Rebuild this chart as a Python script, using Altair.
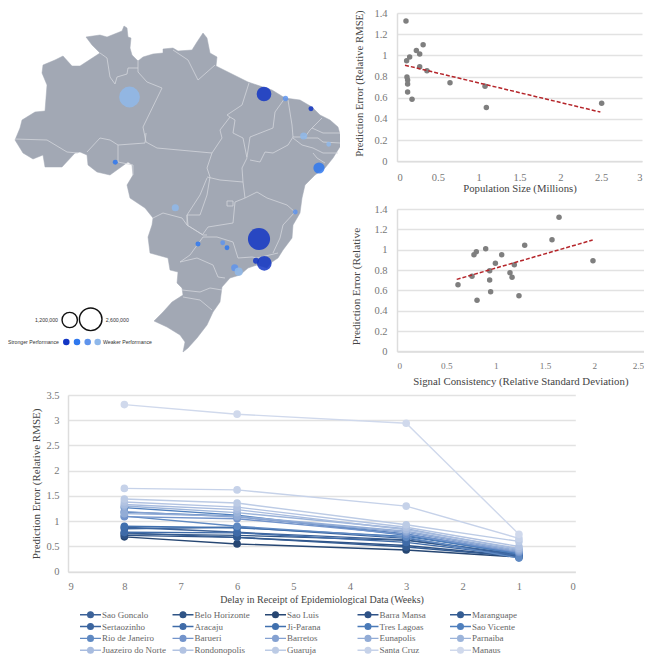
import altair as alt
import pandas as pd

SERIF = "Liberation Serif"
SANS = "Liberation Sans"

# ---------- map geometry (map units) ----------
outline = [(86,32),(100,30),(107,32),(122,26),(124,21),(127,23),(128,32),(131,33),(130,43),(132,50),(138,56),
 (143,52),(153,49),(163,48),(163,44),(173,43),(178,46),(192,45),(197,37),(203,28),(207,33),(210,48),(217,52),
 (216,61),(230,68),(248,77),(257,80),(272,85),(285,93),(300,95),(312,102),(320,110),(330,115),(338,122),
 (341,133),(341,140),(333,153),(325,163),(315,170),(305,180),(302,193),(300,208),(293,220),(292,233),(283,245),
 (278,253),(272,257),(267,263),(257,260),(248,263),(240,270),(230,273),(222,282),(220,297),(213,307),(207,320),
 (197,333),(188,343),(183,347),(185,337),(180,330),(167,322),(154,316),(163,307),(172,297),(183,290),(182,283),
 (177,278),(178,267),(170,265),(168,253),(150,248),(148,232),(152,220),(153,213),(145,203),(130,193),(127,180),
 (133,170),(132,160),(128,157),(110,170),(97,167),(88,160),(87,150),(80,147),(75,148),(62,162),(45,162),(43,150),
 (33,154),(23,148),(15,135),(20,123),(22,115),(35,107),(45,106),(47,80),(42,68),(43,60),(55,55),(63,51),(72,61),
 (80,61),(100,48),(92,40),(86,32)]
borders = [
 [(100,48),(107,53),(110,72),(115,79),(117,72),(127,69),(128,63),(138,63)],
 [(138,56),(138,67),(147,77),(162,83),(143,122),(146,137),(157,143),(212,148)],
 [(15,134),(47,135),(67,147),(78,148)],
 [(87,147),(100,133),(110,135),(118,140),(145,138),(146,128)],
 [(118,140),(118,157),(133,160),(133,170)],
 [(173,45),(188,55),(198,75),(215,60)],
 [(249,78),(242,100),(227,110),(230,112),(220,125),(222,133),(212,148),(207,163),(210,172),(207,190),(200,210),(187,210),(187,220),(203,230),(207,230)],
 [(230,112),(235,115),(233,128),(243,133),(247,153),(242,163),(243,177),(245,193)],
 [(285,93),(275,107),(273,123),(250,132),(247,152)],
 [(288,95),(292,120),(293,132),(305,132),(310,125),(322,113)],
 [(312,123),(323,128),(340,128)],
 [(305,133),(318,133),(323,137),(340,138)],
 [(293,133),(302,140),(313,143),(323,148),(338,148)],
 [(313,148),(317,153),(325,158)],
 [(250,155),(260,157),(265,147),(273,148),(288,140),(293,132)],
 [(207,172),(220,175),(243,177)],
 [(153,213),(163,208),(182,213),(187,220),(203,230)],
 [(207,173),(200,190),(187,210),(188,220)],
 [(245,193),(257,187),(267,193),(287,200),(295,207)],
 [(203,229),(208,222),(233,218),(235,197),(245,193)],
 [(227,196),(233,196),(233,201),(227,201),(227,196)],
 [(203,232),(217,232),(233,237),(238,253),(252,252),(257,253),(278,248)],
 [(295,207),(283,220),(280,233),(273,248)],
 [(203,232),(190,250),(180,257)],
 [(180,257),(197,253),(213,260),(218,272),(225,273)],
 [(182,285),(200,287),(210,283),(222,285)],
 [(183,292),(200,295),(212,305)],
]

# ---------- bubbles ----------
bub_x = [129.5,264,285.5,311,303.7,328.7,319,115.3,175.3,295.3,259,264.3,256,198,222.7,227,234.7,238.7]
bub_y = [92,89,93.5,103.7,131,139.3,163,157.3,202.7,207,234,258.3,255.7,239,237.7,242.7,262.7,266.7]
bub_pop = [2.2,1.1,.145,.127,.26,.12,.64,.127,.26,.12,2.5,1.1,.18,.127,.12,.12,.26,.34]
bub_class = ["d","a","c","a","d","d","b","b","d","c","a","a","a","b","c","b","c","d"]
class_names = ["a","b","c","d"]
class_colors = ["#1336c4","#2f78ee","#5f94ec","#8fb8ea"]

ring_x = [69.7,90.7]; ring_y = [315,314.3]; ring_pop = [1.2,2.6]
key_x = [66.3,77,87.7,97.7]; key_y = [337,337,337,337]
map_labels = ["1,200,000","2,600,000","Stronger Performance","Weaker Performance"]
lab_x = [58,105.7,59,103]; lab_y = [315,314.5,337,337]; lab_al = ["right","left","right","left"]

# ---------- scatter data ----------
pop_x = [.11,.32,.237,.278,.155,.118,.278,.367,.122,.13,.13,.649,1.078,.13,.184,1.094,2.506]
pop_y = [1.325,1.10,1.045,1.013,.985,.95,.892,.854,.795,.767,.73,.742,.708,.655,.586,.508,.549]
pop_trend_x = [.098,2.49]; pop_trend_y = [.907,.465]
sig_x = [1.642,1.571,1.294,.899,.804,.78,1.061,1.986,.997,1.189,.939,1.145,.76,1.166,.939,.618,.949,1.236,.811]
sig_y = [1.318,1.098,1.043,1.01,.98,.951,.951,.892,.866,.852,.793,.774,.738,.728,.702,.656,.587,.548,.502]
sig_trend_x = [.605,1.983]; sig_trend_y = [.708,1.095]

# ---------- line data ----------
delays = [8,6,3,1]
cities = ["Sao Goncalo","Belo Horizonte","Sao Luis","Barra Mansa","Maranguape","Sertaozinho","Aracaju","Ji-Parana",
 "Tres Lagoas","Sao Vicente","Rio de Janeiro","Barueri","Barretos","Eunapolis","Parnaiba","Juazeiro do Norte",
 "Rondonopolis","Guaruja","Santa Cruz","Manaus"]
city_colors = ["#3c6299","#2f5486","#264672","#2e5286","#345c92","#3b659f","#3f6ba8","#4070ae","#4a7ab8","#4f7fbd",
 "#5f89c2","#7394cb","#84a1d1","#92acd6","#9cb4da","#a8bcdf","#b2c3e2","#bccbe5","#c6d2e9","#d0d9ec"]
city_vals = [
 [.88,.78,.63,.33],[.75,.72,.62,.35],[.69,.55,.43,.29],[.72,.68,.52,.31],[.77,.68,.49,.30],
 [.85,.88,.66,.33],[.78,.77,.58,.32],[.90,.87,.70,.36],[1.18,1.10,.75,.37],[1.27,1.12,.72,.35],
 [1.10,.90,.68,.27],[1.09,1.05,.74,.38],[1.19,1.08,.78,.40],[1.15,1.10,.80,.42],[1.30,1.17,.85,.44],
 [1.33,1.23,.83,.46],[1.38,1.28,.88,.50],[1.44,1.36,.93,.60],[1.65,1.62,1.30,.66],[3.31,3.12,2.94,.74]]

# ---------- map panel ----------
MW, MH = 332, 342
proj = dict(type="identity", reflectY=True, scale=1, translate=[-8, -8])
land = alt.Chart(alt.Data(values=[{"type":"Feature","geometry":{"type":"Polygon",
        "coordinates":[[[x,-y] for x,y in outline]]},"properties":{}}])).mark_geoshape(
        fill="#a2a8b4", stroke="#a2a8b4", strokeWidth=0.5).project(**proj)
lines = alt.Chart(alt.Data(values=[{"type":"Feature","geometry":{"type":"LineString",
        "coordinates":[[x,-y] for x,y in b]},"properties":{}} for b in borders])).mark_geoshape(
        filled=False, stroke="#d3d6dc", strokeWidth=0.8).project(**proj)
bdf = pd.DataFrame({"lon":bub_x,"lat":[-v for v in bub_y],"pop":bub_pop,"cls":bub_class})
size_scale = alt.Scale(domain=[0,3], range=[0,588], zero=True)
cls_scale = alt.Scale(domain=class_names, range=class_colors)
bubbles = alt.Chart(bdf).mark_circle(opacity=0.85).encode(
    longitude="lon:Q", latitude="lat:Q",
    size=alt.Size("pop:Q", scale=size_scale, legend=None),
    color=alt.Color("cls:N", scale=cls_scale, legend=None)).project(**proj)
rdf = pd.DataFrame({"lon":ring_x,"lat":[-v for v in ring_y],"pop":ring_pop})
rings = alt.Chart(rdf).mark_point(filled=False, stroke="#111111", strokeWidth=1.4, opacity=1).encode(
    longitude="lon:Q", latitude="lat:Q",
    size=alt.Size("pop:Q", scale=size_scale, legend=None)).project(**proj)
kdf = pd.DataFrame({"lon":key_x,"lat":[-v for v in key_y],"cls":class_names})
keys = alt.Chart(kdf).mark_circle(size=43, opacity=1).encode(
    longitude="lon:Q", latitude="lat:Q",
    color=alt.Color("cls:N", scale=cls_scale, legend=None)).project(**proj)
ldf = pd.DataFrame({"lon":lab_x,"lat":[-v for v in lab_y],"t":map_labels,"al":lab_al})
map_texts = [alt.Chart(ldf[ldf.al==a]).mark_text(font=SANS, fontSize=5.2, color="#333333", align=a, baseline="middle").encode(
    longitude="lon:Q", latitude="lat:Q", text="t:N").project(**proj) for a in ["left","right"]]
map_panel = alt.layer(land, lines, bubbles, rings, keys, *map_texts).properties(width=MW, height=MH)

# ---------- helpers ----------
def axis(title, values, title_size=10.5, label_size=10.5, **kw):
    return alt.Axis(title=title, values=values, tickCount=len(values), format="~g", labelFont=SERIF, labelFontSize=label_size, labelColor="#777777",
        titleFont=SERIF, titleFontSize=title_size, titleColor="#444444", titleFontWeight="normal", ticks=False, labelOverlap=False,
        domainColor="#dddddd", domainWidth=1.5, gridColor="#e2e2e2", gridWidth=1.4, **kw)

def scatter(xs, ys, tx, ty, xmax, xvals, xtitle, ytitle, w, h, ypad, xpad, xlabpad, xsize, ysize, xlabsize, title_y):
    d = pd.DataFrame({"x":xs,"y":ys}); t = pd.DataFrame({"x":tx,"y":ty})
    X = alt.X("x:Q", scale=alt.Scale(domain=[0,xmax], nice=False),
              axis=axis(xtitle, xvals, title_size=xsize, label_size=xlabsize, grid=False, labelPadding=xlabpad, titlePadding=xpad))
    Y = alt.Y("y:Q", scale=alt.Scale(domain=[0,1.4], nice=False),
              axis=axis(ytitle, [0,.2,.4,.6,.8,1,1.2,1.4], title_size=ysize, labelPadding=10, titlePadding=ypad, titleY=title_y))
    pts = alt.Chart(d).mark_circle(size=30, color="#7f7f7f", opacity=1).encode(x=X, y=Y)
    tr = alt.Chart(t).mark_line(color="#b5252a", strokeDash=[4,2], strokeWidth=1.5).encode(x="x:Q", y="y:Q")
    return alt.layer(pts, tr).properties(width=w, height=h)

s1 = scatter(pop_x, pop_y, pop_trend_x, pop_trend_y, 3, [0,.5,1,1.5,2,2.5,3], "Population Size (Millions)",
             "Prediction Error (Relative RMSE)", 245, 148.3, 9, 1, 11, 10.7, 10.7, 10.5, 70)
s2 = scatter(sig_x, sig_y, sig_trend_x, sig_trend_y, 2.5, [0,.5,1,1.5,2,2.5],
             "Signal Consistency (Relative Standard Deviation)", "Prediction Error (Relative", 246.7, 142.4, 12, 5, 10, 10.8, 11.3, 9.2, 77)

# ---------- line panel ----------
rows = [{"city":c,"delay":d,"v":v} for c,vals in zip(cities,city_vals) for d,v in zip(delays,vals)]
ldata = pd.DataFrame(rows)
city_scale = alt.Scale(domain=cities, range=city_colors)
symbol = "M-1,0H-0.27A0.27,0.27 0 1 1 0.27,0A0.27,0.27 0 1 1 -0.27,0M0.27,0H1"
leg = alt.Legend(title=None, orient="none", legendX=71, legendY=596.8, columns=5, gridAlign="all", direction="horizontal",
            symbolType=symbol, symbolSize=440, symbolStrokeWidth=1.4, clipHeight=9.6,
            labelFont=SERIF, labelFontSize=9, labelColor="#666666", labelLimit=80, labelOffset=0,
            columnPadding=5.5, rowPadding=1.9)
X = alt.X("delay:Q", scale=alt.Scale(domain=[9,0], nice=False),
          axis=axis("Delay in Receipt of Epidemiological Data (Weeks)", list(range(10)), title_size=10, grid=False, labelPadding=10, titlePadding=2))
Y = alt.Y("v:Q", scale=alt.Scale(domain=[0,3.5], nice=False),
          axis=axis("Prediction Error (Relative RMSE)", [0,.5,1,1.5,2,2.5,3,3.5], title_size=11, labelPadding=9, titlePadding=4))
ln = alt.Chart(ldata).mark_line(strokeWidth=1.4).encode(x=X, y=Y,
        detail="city:N", order="delay:Q", stroke=alt.Stroke("city:N", scale=city_scale, sort=cities, legend=leg))
pt = alt.Chart(ldata).mark_point(filled=True, size=32, opacity=1).encode(x="delay:Q", y="v:Q",
        fill=alt.Fill("city:N", scale=city_scale, sort=cities, legend=leg),
        stroke=alt.Stroke("city:N", scale=city_scale, sort=cities, legend=leg))
line_panel = alt.layer(ln, pt).properties(width=507.3, height=176.7)

spacer = alt.Chart(pd.DataFrame({"a":[0]})).mark_rule(opacity=0).encode(x=alt.value(0)).properties(width=21.4, height=10)

right = alt.vconcat(s1, s2, spacing=10)
top = alt.hconcat(map_panel, right, spacing=10)
bottom = alt.hconcat(spacer, line_panel, spacing=0)
chart = alt.vconcat(top, bottom, spacing=3).properties(padding=0, background="white").configure_view(stroke=None)

chart.save("out.html", embed_options={"renderer": "svg", "actions": False})
